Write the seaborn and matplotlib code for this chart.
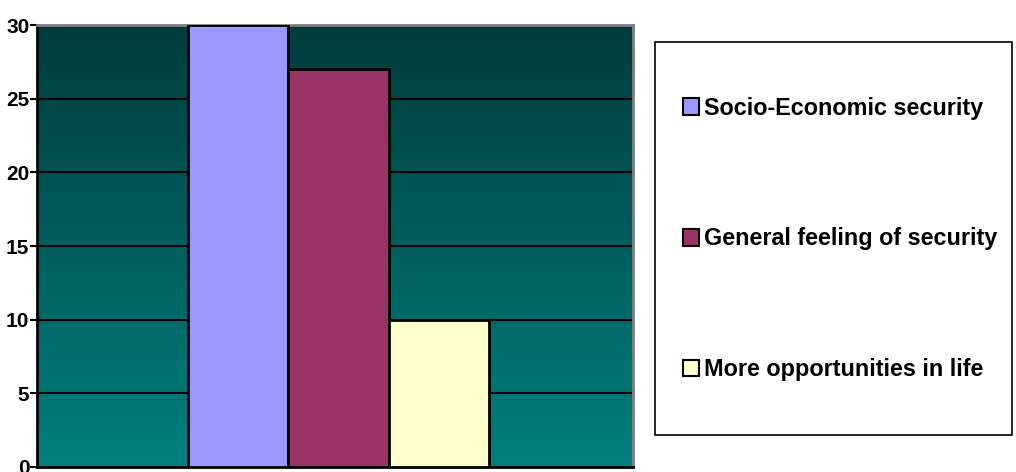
import numpy as np
import pandas as pd
import matplotlib
matplotlib.use('Agg')
import matplotlib.pyplot as plt
import seaborn as sns
from matplotlib.colors import LinearSegmentedColormap
from matplotlib.patches import Rectangle

# data
categories = ['Socio-Economic security', 'General feeling of security', 'More opportunities in life']
values = [30, 27, 10]
bar_colors = ['#9999FF', '#993366', '#FFFFCC']
y_ticks = [0, 5, 10, 15, 20, 25, 30]

df = pd.DataFrame({'group': [''] * len(categories), 'category': categories, 'value': values})

sns.set_style('white')
plt.rcParams['font.family'] = ['Liberation Sans', 'DejaVu Sans']
plt.rcParams['text.color'] = 'black'
plt.rcParams['ytick.color'] = 'black'

fig = plt.figure(figsize=(10.16, 4.72), dpi=100)
ax = fig.add_axes([37 / 1016, 5 / 472, 596 / 1016, 442 / 472])

x_lo, x_hi = -0.506, 0.494

# gradient background of the plot area
cmap = LinearSegmentedColormap.from_list('teal', ['#008080', '#003c3c'])
grad = np.linspace(0, 1, 256).reshape(-1, 1)
ax.imshow(grad, aspect='auto', cmap=cmap, origin='lower',
          extent=[x_lo, x_hi, 0, 30], zorder=0)

sns.barplot(data=df, x='group', y='value', hue='category', palette=bar_colors,
            width=0.505, edgecolor='black', linewidth=2, saturation=1,
            legend=False, ax=ax, zorder=3)

ax.set_xlim(x_lo, x_hi)
ax.set_ylim(0, 30)
ax.set_yticks(y_ticks)
ax.set_yticklabels([str(t) for t in y_ticks], fontsize=15, fontweight='bold', color='black')
ax.set_xticks([])
ax.set_xlabel('')
ax.set_ylabel('')
ax.tick_params(axis='y', length=5, width=1.5, color='black', pad=0.5, left=True)
for t in y_ticks[1:-1]:
    ax.axhline(t, color='black', lw=1.5, zorder=2)

ax.spines['left'].set_color('black')
ax.spines['bottom'].set_color('black')
ax.spines['left'].set_linewidth(2)
ax.spines['bottom'].set_linewidth(2)
ax.spines['top'].set_color('#808080')
ax.spines['right'].set_color('#808080')
ax.spines['top'].set_linewidth(2)
ax.spines['right'].set_linewidth(2)

# legend box
fig.patches.append(Rectangle((655 / 1016, 37 / 472), 357 / 1016, 393 / 472,
                             transform=fig.transFigure, facecolor='white',
                             edgecolor='black', lw=1.2))
handles = [Rectangle((0, 0), 1, 1, facecolor=c, edgecolor='black', lw=1.5) for c in bar_colors]
fig.legend(handles, categories, loc='center left', bbox_to_anchor=(662 / 1016, 233 / 472),
           frameon=False, prop={'weight': 'bold', 'size': 16.8},
           handlelength=0.7, handleheight=0.7, handletextpad=0.2, labelspacing=4.62)

plt.savefig('out.png', dpi=100)
